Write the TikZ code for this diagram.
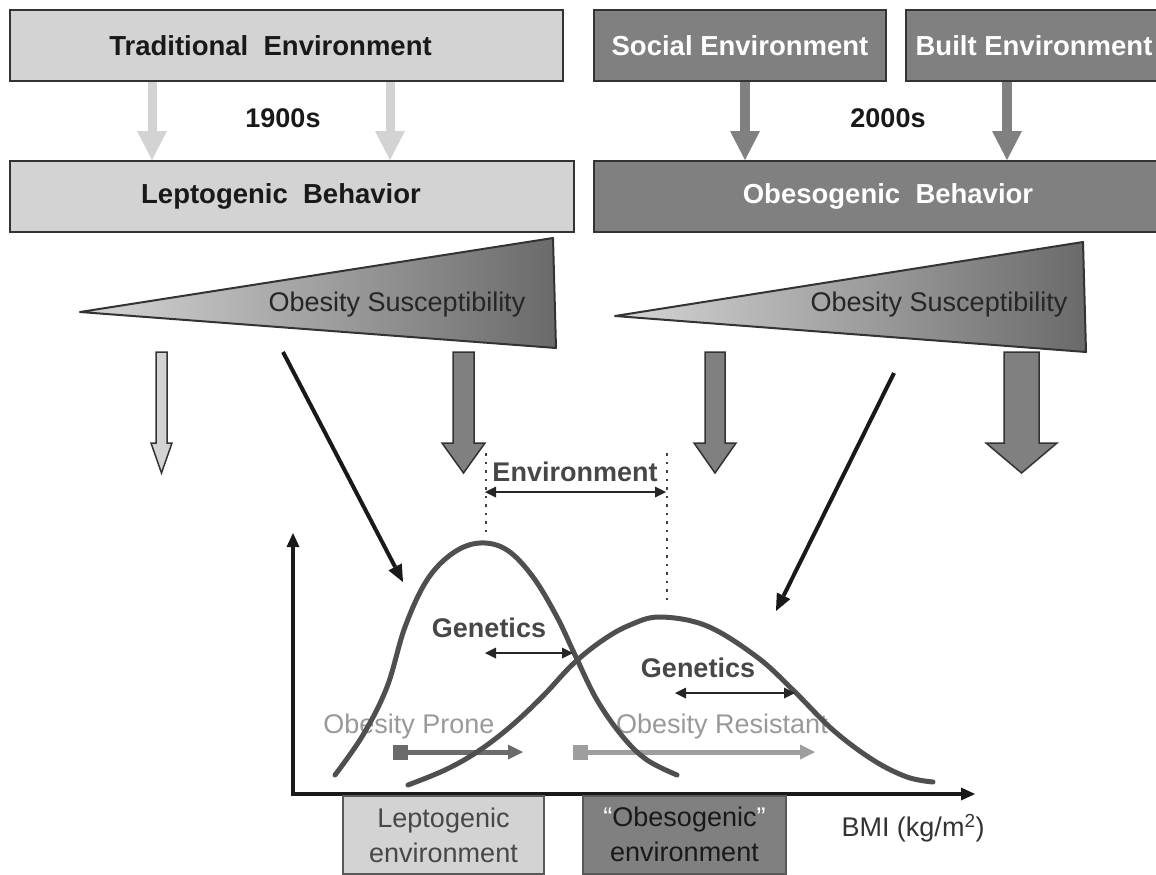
\documentclass[tikz,border=0pt]{standalone}
\usepackage{fontspec}
\setmainfont{Liberation Sans}
\usetikzlibrary{arrows.meta}

\definecolor{boxlight}{HTML}{D3D3D3}
\definecolor{boxdark}{HTML}{808080}
\definecolor{edgegray}{HTML}{333333}
\definecolor{curvegray}{HTML}{4F4F4F}
\definecolor{wedgelight}{HTML}{D6D6D6}
\definecolor{wedgedark}{HTML}{6A6A6A}

\tikzset{
  bigfont/.style={font=\fontsize{27}{33}\selectfont},
  lightenv/.style={draw=edgegray, line width=2pt, fill=boxlight, text=black!90, inner sep=0pt, minimum height=71pt, font=\fontsize{27.5}{33}\selectfont\bfseries},
  darkenv/.style={lightenv, fill=boxdark, text=white},
  eralabel/.style={text=black!90, font=\fontsize{27}{33}\selectfont\bfseries},
  lightblock/.style={draw=boxlight, line width=9pt, -{Triangle[length=29pt,width=30pt,line width=0pt]}},
  darkblock/.style={draw=boxdark, line width=10pt, -{Triangle[length=29pt,width=30pt,line width=0pt]}},
  wedge/.style={draw=edgegray, line width=2pt, line join=round, left color=wedgelight, right color=wedgedark},
  wedgelabel/.style={bigfont, text=black!85},
  hollowarrow/.style={fill=boxlight, draw=edgegray, line width=1.5pt},
  solidarrow/.style={fill=boxdark, draw=edgegray, line width=1.5pt},
  pointer/.style={draw=black!90, line width=4pt, -{Triangle[length=17pt,width=15pt,line width=0pt]}},
  axisline/.style={draw=black!90, line width=4.5pt, line join=miter, {Triangle[length=14pt,width=13pt,line width=0pt]}-{Triangle[length=14pt,width=13pt,line width=0pt]}},
  bell/.style={draw=curvegray, line width=5pt, line cap=round},
  span/.style={draw=black!85, line width=1.8pt, {Triangle[length=11pt,width=11pt,line width=0pt]}-{Triangle[length=11pt,width=11pt,line width=0pt]}},
  guide/.style={draw=black!75, line width=2.5pt, dash pattern=on 2.5pt off 6pt},
  chartlabel/.style={text=black!72, font=\fontsize{27}{33}\selectfont\bfseries},
  faintlabel/.style={bigfont, text=black!40},
  trend/.style={line width=5pt, -{Triangle[length=15pt,width=15pt,line width=0pt]}},
  envbox/.style={draw=black!65, line width=2pt, inner sep=0pt, minimum height=78pt, align=center, font=\fontsize{27}{35}\selectfont},
}

\newcommand{\blockarrow}[6]{% style, x, shaft half, head half, top, tip
  \filldraw[#1] (#2-#3,#5) -- (#2+#3,#5) -- (#2+#3,#6-30) -- (#2+#4,#6-30) -- (#2,#6)
    -- (#2-#4,#6-30) -- (#2-#3,#6-30) -- cycle;}

\begin{document}
\begin{tikzpicture}[x=1pt, y=-1pt]
\useasboundingbox (0,0) rectangle (1156,875);

% 1900s
\node[lightenv, minimum width=553pt] (trad) at (286.5,45.5) {\hspace*{-32pt}Traditional~~Environment};
\node[lightenv, minimum width=564pt] (lepto) at (292,196.5) {\hspace*{-22pt}Leptogenic~~Behavior};
\node[eralabel] (y1900) at (283,118) {1900s};
\coordinate (t1) at ([xshift=-134.5pt]trad.south);
\coordinate (t2) at ([xshift=103.5pt]trad.south);
\draw[lightblock] (t1) -- (t1 |- lepto.north);
\draw[lightblock] (t2) -- (t2 |- lepto.north);

% 2000s
\node[darkenv, minimum width=292pt] (social) at (740,45.5) {Social Environment};
\node[darkenv, minimum width=256pt] (built) at (1034,45.5) {Built Environment};
\node[darkenv, minimum width=588pt] (obeso) at (888,196.5) {Obesogenic~~Behavior};
\node[eralabel] (y2000) at (888,118) {2000s};
\coordinate (s1) at ([xshift=5pt]social.south);
\coordinate (b1) at ([xshift=-27pt]built.south);
\draw[darkblock] (s1) -- (s1 |- obeso.north);
\draw[darkblock] (b1) -- (b1 |- obeso.north);

% susceptibility wedges
\draw[wedge] (80,312) -- (553,238) -- (556,348) -- cycle;
\node[wedgelabel] (suscL) at (397,305) {Obesity Susceptibility};
\draw[wedge] (615,316) -- (1083,242) -- (1086,352) -- cycle;
\node[wedgelabel] (suscR) at (939,305) {Obesity Susceptibility};

\blockarrow{hollowarrow}{161.5}{5.5}{10.5}{352}{473}
\blockarrow{solidarrow}{463.5}{10.5}{21.5}{352}{473}
\blockarrow{solidarrow}{715}{10}{21}{352}{473}
\blockarrow{solidarrow}{1021.5}{17.5}{35.5}{352}{473}

% axes
\coordinate (origin) at (293,794);
\coordinate (ytop) at (293,533);
\coordinate (xend) at (975,794);
\draw[axisline] (ytop) -- (origin) -- (xend);
\node[bigfont, text=black!80] (bmi) at (913,828) {BMI (kg/m\textsuperscript{2})};

% environment shift
\coordinate (topL) at (486,453);
\coordinate (peakL) at (486,535);
\coordinate (topR) at (667,453);
\coordinate (peakR) at (667,603);
\draw[guide] (topL) -- (peakL);
\draw[guide] (topR) -- (peakR);
\node[chartlabel] (envlab) at (575,472) {Environment};
\coordinate (envA) at (485,492);
\coordinate (envB) at (666,492);
\draw[span] (envA) -- (envB);

% prone / resistant
\node[faintlabel] (prone) at (409,727) {Obesity Prone};
\node[faintlabel] (resist) at (722,727) {Obesity Resistant};
\coordinate (proneA) at (393,752);
\coordinate (proneB) at (523,752);
\coordinate (resistA) at (573,752);
\coordinate (resistB) at (815,752);
\draw[trend, draw=black!58, {Square[length=15pt,width=15pt,line width=0pt]}-{Triangle[length=15pt,width=15pt,line width=0pt]}] (proneA) -- (proneB);
\draw[trend, draw=black!38, {Square[length=15pt,width=15pt,line width=0pt]}-{Triangle[length=15pt,width=15pt,line width=0pt]}] (resistA) -- (resistB);

% distributions
\draw[bell] plot[smooth, tension=0.6] coordinates {(335,775) (363,735) (387,687) (405,627) (427,580) (453,553) (480,543) (507,550) (533,577) (557,617) (575,655) (597,700) (623,737) (647,760) (677,775)};
\draw[bell] plot[smooth, tension=0.6] coordinates {(408,785) (445,770) (477,752) (510,727) (543,696) (573,664) (603,640) (630,625) (660,617) (707,626) (757,657) (793,690) (833,730) (873,760) (907,777) (933,782)};

\node[chartlabel] (genL) at (489,628) {Genetics};
\coordinate (genLa) at (485,653);
\coordinate (genLb) at (573,653);
\draw[span] (genLa) -- (genLb);
\node[chartlabel] (genR) at (698,668) {Genetics};
\coordinate (genRa) at (675,693);
\coordinate (genRb) at (795,693);
\draw[span] (genRa) -- (genRb);

% pointers from the wedges
\coordinate (pL) at (283,352);
\coordinate (pLend) at (403,582);
\coordinate (pR) at (894,373);
\coordinate (pRend) at (776,611);
\draw[pointer] (pL) -- (pLend);
\draw[pointer] (pR) -- (pRend);

% environments on the BMI axis
\node[envbox, fill=boxlight, text=black!72, minimum width=201pt] (leptoenv) at (443.5,835) {Leptogenic\\environment};
\node[envbox, fill=boxdark, text=black!90, minimum width=203pt] (obesoenv) at (684.5,834.5) {{\color{white}“}Obesogenic{\color{white}”}\\environment};

\end{tikzpicture}
\end{document}
